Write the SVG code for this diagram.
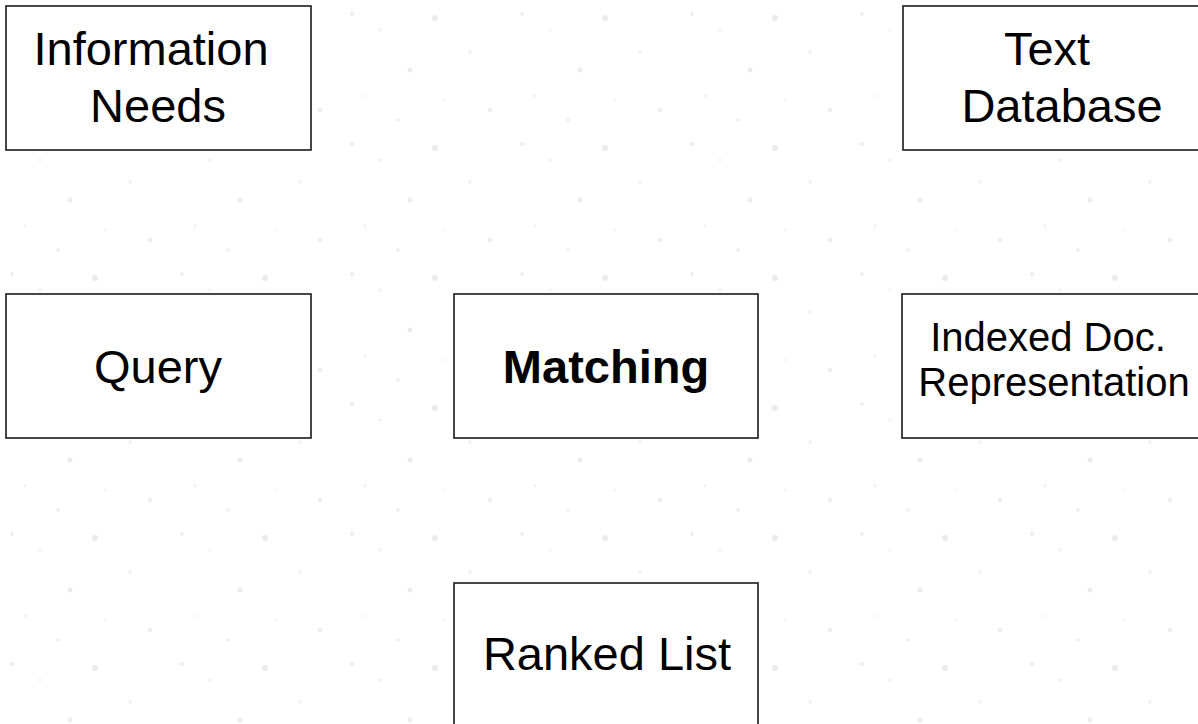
<svg xmlns="http://www.w3.org/2000/svg" width="1198" height="724" viewBox="0 0 1198 724">
  <defs>
    <style>
      .box { fill: #ffffff; stroke: #1a1a1a; stroke-width: 1.6; }
      .lbl { font-family: "Liberation Sans", Arial, sans-serif; font-size: 47px; fill: #000000; text-anchor: middle; }
      .small { font-size: 40px; }
      .bold { font-weight: bold; }
    </style>
    <pattern id="lace" x="0" y="0" width="170" height="130" patternUnits="userSpaceOnUse">
      <circle cx="12" cy="14" r="2" fill="#ededed"/>
      <circle cx="40" cy="30" r="1.5" fill="#f0f0f0"/>
      <circle cx="95" cy="18" r="3" fill="#ebebeb"/>
      <circle cx="130" cy="52" r="1.8" fill="#efefef"/>
      <circle cx="70" cy="70" r="2.5" fill="#ececec"/>
      <circle cx="25" cy="96" r="1.4" fill="#f0f0f0"/>
      <circle cx="150" cy="110" r="2.2" fill="#ededed"/>
      <circle cx="105" cy="100" r="1.3" fill="#f1f1f1"/>
      <circle cx="58" cy="120" r="1.8" fill="#eeeeee"/>
    </pattern>
  </defs>
  <rect x="0" y="0" width="1198" height="724" fill="#ffffff"/>
  <rect x="0" y="0" width="1198" height="724" fill="url(#lace)"/>

  <g id="connectors"></g>

  <g id="node-information-needs">
    <rect class="box" x="6" y="6" width="305" height="144"/>
    <text class="lbl" x="151" y="65">Information</text>
    <text class="lbl" x="158" y="122">Needs</text>
  </g>
  <g id="node-text-database">
    <rect class="box" x="903" y="6" width="300" height="144"/>
    <text class="lbl" x="1047" y="65">Text</text>
    <text class="lbl" x="1062" y="122">Database</text>
  </g>
  <g id="node-query">
    <rect class="box" x="6" y="294" width="305" height="144"/>
    <text class="lbl" x="158" y="383">Query</text>
  </g>
  <g id="node-matching">
    <rect class="box" x="454" y="294" width="304" height="144"/>
    <text class="lbl bold" x="606" y="383">Matching</text>
  </g>
  <g id="node-indexed-doc">
    <rect class="box" x="902" y="294" width="300" height="144"/>
    <text class="lbl small" x="1048" y="351">Indexed Doc.</text>
    <text class="lbl small" x="1054" y="396">Representation</text>
  </g>
  <g id="node-ranked-list">
    <rect class="box" x="454" y="583" width="304" height="150"/>
    <text class="lbl" x="607" y="670">Ranked List</text>
  </g>
</svg>
